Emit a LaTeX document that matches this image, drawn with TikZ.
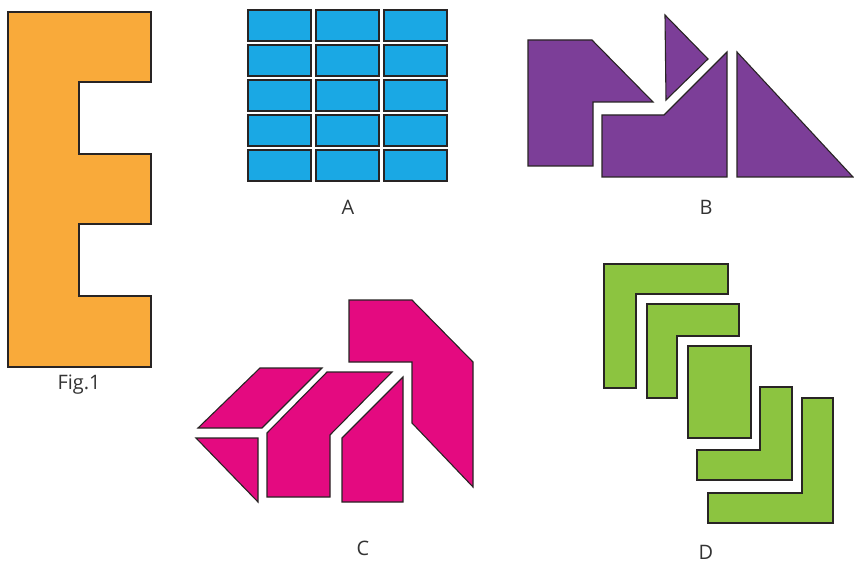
\documentclass[tikz,border=0pt]{standalone}
\usepackage{fontspec}
\setsansfont{Open Sans}
\usetikzlibrary{positioning}
\definecolor{eorange}{RGB}{249, 170, 58}
\definecolor{ablue}{RGB}{26, 168, 228}
\definecolor{bpurple}{RGB}{124, 62, 152}
\definecolor{cpink}{RGB}{228, 10, 128}
\definecolor{dgreen}{RGB}{140, 196, 64}
\definecolor{edgegray}{RGB}{40, 36, 36}

\begin{document}
\begin{tikzpicture}[x=1bp, y=-1bp,
        piece/.style={draw=edgegray, line width=1.1bp, line join=miter},
        tag/.style={font=\sffamily\fontsize{20}{22}\selectfont, text=black!80}
    ]
        \useasboundingbox (0,0) rectangle (854,564);

        % Fig.1
        \draw[piece, fill=eorange] (8,12) -- (151,12) -- (151,82) -- (79,82) -- (79,154)
            -- (151,154) -- (151,224) -- (79,224) -- (79,296) -- (151,296) -- (151,367)
            -- (8,367) -- cycle;
        \node[tag] (fig) at (79,385) {Fig.1};

        % A
        \foreach \cx in {248, 316, 384}
            \foreach \cy in {10, 45, 80, 115, 150}
                \draw[piece, fill=ablue] (\cx,\cy) rectangle ++(63,31);
        \node[tag] (labA) at (348,207) {A};

        % B
        \draw[piece, fill=bpurple] (528,40) -- (592,40) -- (653,102) -- (593,102)
            -- (593,166) -- (528,166) -- cycle;
        \draw[piece, fill=bpurple] (665,15) -- (708,59) -- (666,100) -- cycle;
        \draw[piece, fill=bpurple] (602,115) -- (664,115) -- (727,52) -- (727,177)
            -- (602,177) -- cycle;
        \draw[piece, fill=bpurple] (737,52) -- (853,177) -- (737,177) -- cycle;
        \node[tag] (labB) at (706,207) {B};

        % C
        \draw[piece, fill=cpink] (260,368) -- (322,368) -- (262,428) -- (198,428) -- cycle;
        \draw[piece, fill=cpink] (196,438) -- (258,438) -- (258,502) -- cycle;
        \draw[piece, fill=cpink] (327,372) -- (392,372) -- (330,435) -- (330,497)
            -- (267,497) -- (267,433) -- cycle;
        \draw[piece, fill=cpink] (403,377) -- (403,502) -- (342,502) -- (342,438) -- cycle;
        \draw[piece, fill=cpink] (349,300) -- (412,300) -- (473,362) -- (473,487)
            -- (412,423) -- (412,362) -- (349,362) -- cycle;
        \node[tag] (labC) at (363,548) {C};

        % D
        \draw[piece, fill=dgreen] (604,264) -- (728,264) -- (728,294) -- (636,294)
            -- (636,388) -- (604,388) -- cycle;
        \draw[piece, fill=dgreen] (647,304) -- (739,304) -- (739,336) -- (677,336)
            -- (677,398) -- (647,398) -- cycle;
        \draw[piece, fill=dgreen] (688,346) rectangle (751,438);
        \draw[piece, fill=dgreen] (760,387) -- (792,387) -- (792,480) -- (697,480)
            -- (697,450) -- (760,450) -- cycle;
        \draw[piece, fill=dgreen] (802,398) -- (833,398) -- (833,523) -- (708,523)
            -- (708,493) -- (802,493) -- cycle;
        \node[tag] (labD) at (706,552) {D};
    \end{tikzpicture}
\end{document}
